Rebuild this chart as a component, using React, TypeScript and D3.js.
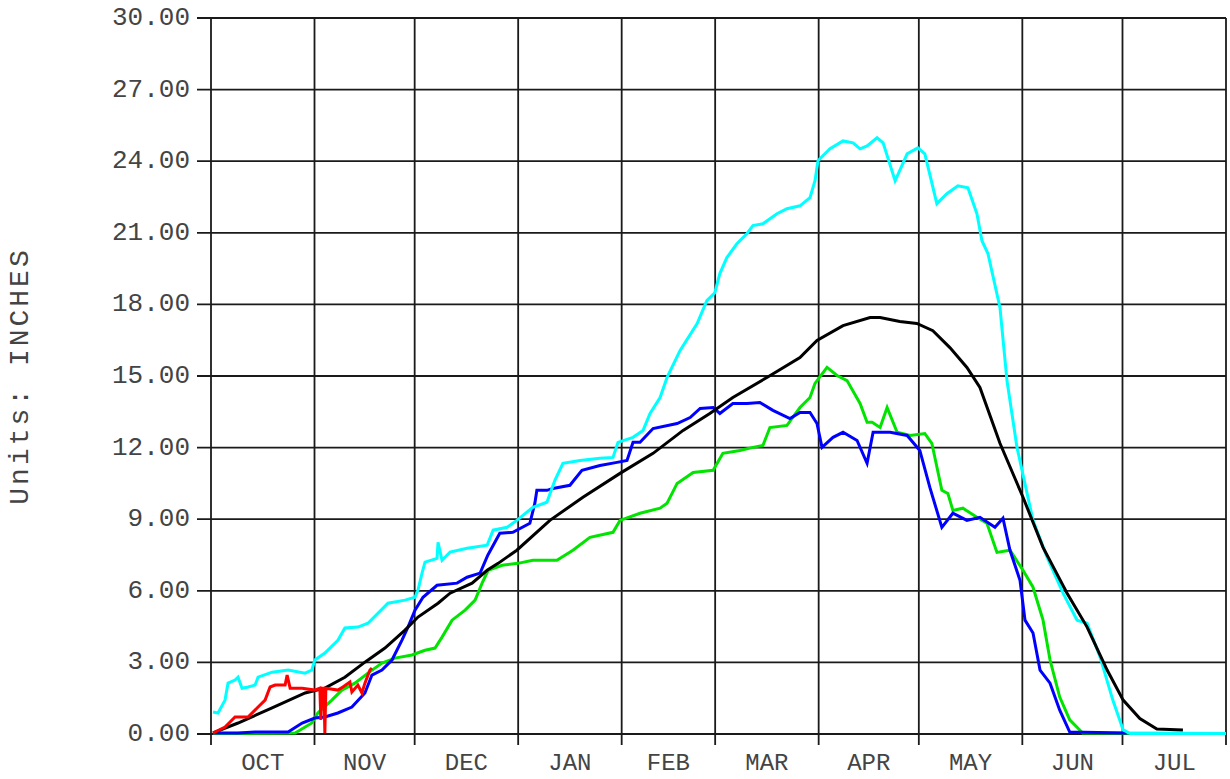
import React from "react";
import * as d3 from "d3";

const months = ["OCT", "NOV", "DEC", "JAN", "FEB", "MAR", "APR", "MAY", "JUN", "JUL"];
const monthDays = [31, 30, 31, 31, 28, 31, 30, 31, 30, 31];
const yTicks = [0, 3, 6, 9, 12, 15, 18, 21, 24, 27, 30];
const yLabel = "Units: INCHES";

// [day of water year (Oct 1 = 0), inches]
const median: [number, number][] = [
  [0.6, 0.05], [8.1, 0.46], [18.3, 1.09], [28.2, 1.72], [34.1, 1.92], [40.1, 2.38], [46.1, 3.01],
  [52.1, 3.6], [58.1, 4.35], [62, 4.9], [68, 5.48], [71.6, 5.9], [78.2, 6.32], [82.7, 6.86],
  [86, 7.15], [91.6, 7.7], [101.5, 8.95], [111.4, 9.92], [122.5, 10.92], [132.4, 11.76],
  [141.4, 12.72], [149.4, 13.43], [156.3, 14.1], [166.5, 14.94], [176.4, 15.77], [181.5, 16.49],
  [189.3, 17.11], [197.4, 17.45], [200.4, 17.45], [206.3, 17.28], [211.4, 17.2], [216.2, 16.9],
  [221.3, 16.19], [226.4, 15.36], [230.3, 14.52], [236.3, 12.18], [243.2, 9.92], [249.2, 7.82],
  [256.4, 5.9], [262.4, 4.48], [268.4, 2.68], [273.2, 1.42], [278.2, 0.65], [283.3, 0.21],
  [291.1, 0.17],
];

const maxYear: [number, number][] = [
  [0.6, 0.92], [2.1, 0.88], [4.2, 1.42], [5.1, 2.13], [7.2, 2.26], [8.1, 2.38], [9.3, 1.92],
  [11.1, 1.97], [13.2, 2.05], [14.1, 2.38], [18.3, 2.59], [23.1, 2.68], [28.2, 2.55], [30.2, 2.68],
  [31.1, 3.1], [34.1, 3.39], [38, 3.93], [40.1, 4.44], [44, 4.48], [47, 4.64], [50, 5.06],
  [53, 5.48], [58.1, 5.61], [61.1, 5.73], [62, 6.03], [63.2, 6.74], [64.1, 7.2], [67.7, 7.36],
  [68, 8.03], [69.2, 7.28], [71.6, 7.62], [76.7, 7.78], [82.7, 7.91], [84.5, 8.54], [88.7, 8.66],
  [91.6, 8.95], [96.4, 9.5], [100.6, 9.71], [103, 10.63], [105.4, 11.34], [110.5, 11.46],
  [116.5, 11.55], [120.4, 11.59], [121.9, 12.22], [126.4, 12.43], [129.4, 12.72], [131.5, 13.43],
  [134.5, 14.1], [136.6, 14.94], [140.5, 16.07], [145.6, 17.2], [148.5, 18.16], [150.9, 18.49],
  [152.4, 19.29], [154.5, 19.96], [157.5, 20.54], [160.5, 20.96], [162.3, 21.3], [165.3, 21.38],
  [169.5, 21.8], [172.5, 22.01], [176.4, 22.13], [179.4, 22.47], [180.9, 23.18], [181.8, 24.02],
  [185.4, 24.52], [189.3, 24.85], [192.3, 24.77], [194.4, 24.52], [196.5, 24.64], [199.5, 24.98],
  [201.3, 24.77], [204.9, 23.18], [208.5, 24.31], [211.7, 24.56], [213.8, 24.31], [217.4, 22.22],
  [220.4, 22.64], [223.7, 22.97], [226.7, 22.89], [229.4, 21.8], [230.9, 20.67], [232.7, 20.13],
  [236.3, 17.87], [238.4, 14.81], [241.4, 12.01], [246.2, 8.95], [250.4, 7.41], [255.2, 5.9],
  [259.4, 4.77], [262.4, 4.64], [266.3, 3.22], [270.1, 1.42], [273.2, 0.17], [275.3, 0.02],
  [304, 0.02],
];

const blueYear: [number, number][] = [
  [0.6, 0.04], [8.1, 0.04], [13.2, 0.08], [23.1, 0.08], [27.3, 0.46], [31.1, 0.67], [34.1, 0.71],
  [38, 0.88], [42.2, 1.13], [46.1, 1.72], [48.2, 2.47], [51.2, 2.68], [54.2, 3.1], [57.2, 3.93],
  [59, 4.48], [61.1, 5.19], [63.5, 5.73], [67.7, 6.23], [73.7, 6.32], [76.7, 6.57], [80.6, 6.74],
  [82.9, 7.49], [86.5, 8.41], [90.4, 8.45], [95.5, 8.83], [97, 9.67], [97.6, 10.21], [100.6, 10.21],
  [102.4, 10.29], [107.5, 10.42], [111.1, 11.05], [116.5, 11.25], [121.6, 11.38], [124.6, 11.46],
  [126.4, 12.22], [128.5, 12.22], [132.4, 12.8], [139.6, 13.01], [143.5, 13.26], [146.5, 13.64],
  [150.4, 13.68], [152.4, 13.43], [156.3, 13.85], [160.5, 13.85], [164.4, 13.89], [168.3, 13.56],
  [173.4, 13.22], [176.4, 13.47], [179.4, 13.47], [181.5, 13.01], [183, 12.01], [186.3, 12.43],
  [189.3, 12.64], [193.5, 12.3], [196.5, 11.34], [198.3, 12.64], [203.4, 12.64], [208.5, 12.51],
  [212.3, 11.88], [215.3, 10.33], [218.9, 8.66], [222.2, 9.25], [226.4, 8.95], [230.3, 9.08],
  [234.8, 8.66], [237.2, 9.04], [239.3, 7.7], [242.3, 6.44], [243.8, 4.77], [246.2, 4.23],
  [248.3, 2.68], [251.3, 2.13], [254.2, 1.0], [257.2, 0.08], [274.3, 0.04],
];

const greenYear: [number, number][] = [
  [0.6, 0.02], [25.2, 0.04], [30.2, 0.46], [32, 0.88], [36.2, 1.42], [39.2, 1.84], [43.1, 2.13],
  [47, 2.55], [51.2, 2.97], [55.1, 3.18], [60.2, 3.31], [64.1, 3.51], [67.1, 3.6], [69.2, 4.06],
  [72.2, 4.77], [76.1, 5.19], [79.1, 5.61], [81.2, 6.32], [83, 6.86], [87.2, 7.07], [91.9, 7.15],
  [96.4, 7.28], [103.6, 7.28], [108.4, 7.7], [113.5, 8.24], [120.4, 8.45], [122.5, 8.95],
  [128.5, 9.25], [134.5, 9.46], [136.6, 9.67], [139.6, 10.5], [144.4, 10.96], [150.4, 11.05],
  [153.3, 11.76], [158.4, 11.88], [162.3, 12.01], [165.3, 12.09], [167.4, 12.84], [172.5, 12.93],
  [176.4, 13.68], [179.4, 14.1], [180.9, 14.69], [184.5, 15.36], [187.5, 15.02], [190.5, 14.81],
  [194.4, 13.85], [196.5, 13.06], [198, 13.06], [200.4, 12.84], [202.5, 13.68], [205.5, 12.64],
  [209.4, 12.51], [213.8, 12.59], [215.9, 12.18], [218.9, 10.21], [220.7, 10.08], [222.2, 9.37],
  [225.2, 9.46], [229.4, 9.08], [232.4, 8.83], [235.4, 7.61], [239.3, 7.7], [243.2, 6.86],
  [246.2, 6.15], [249.2, 4.77], [251.3, 3.1], [254.2, 1.55], [257.2, 0.59], [260.2, 0.17],
  [261.1, 0.04], [304, 0.02],
];

const currentYear: [number, number][] = [
  [0.6, 0.04], [4.2, 0.29], [7.2, 0.71], [11.1, 0.71], [14.1, 1.13], [16.2, 1.42], [17.7, 1.97],
  [19.2, 2.05], [22.2, 2.05], [22.8, 2.47], [23.7, 1.92], [27.3, 1.92], [31.1, 1.84], [32.6, 1.92],
  [32.9, 0.59], [33.2, 1.92], [33.8, 1.92], [34.1, 0.04], [34.4, 1.92], [38, 1.84], [39.5, 1.97],
  [41.6, 2.18], [42.2, 1.76], [44, 2.05], [45.2, 1.72], [46.1, 2.13], [47.6, 2.68], [48.2, 2.76],
];

const series = [
  { name: "green", data: greenYear, color: "#00e400" },
  { name: "blue", data: blueYear, color: "#0000ff" },
  { name: "cyan", data: maxYear, color: "#00ffff" },
  { name: "median", data: median, color: "#000000" },
  { name: "current", data: currentYear, color: "#ff0000" },
];

const W = 1230;
const H = 779;
const left = 211;
const right = 1226;
const top = 18;
const bottom = 734;
const font = "'Liberation Mono', 'Courier New', monospace";

export default function App() {
  const totalDays = d3.sum(monthDays);
  const x = d3.scaleLinear().domain([0, totalDays]).range([left, right]);
  const y = d3.scaleLinear().domain([0, 30]).range([bottom, top]);
  const bounds = [0, ...d3.cumsum(monthDays)];
  const line = d3
    .line<[number, number]>()
    .x((d) => x(d[0]))
    .y((d) => y(d[1]));

  return (
    <div style={{ position: "absolute", left: 0, top: 0, width: W, height: H, background: "#fff" }}>
      <svg width={W} height={H} viewBox={`0 0 ${W} ${H}`} style={{ display: "block" }}>
        <rect width={W} height={H} fill="#fff" />
        {yTicks.map((t) => (
          <g key={"y" + t}>
            <line x1={left - 14} x2={right} y1={y(t)} y2={y(t)} stroke="#1a1a1a" strokeWidth={1.8} />
            <text
              x={190}
              y={y(t)}
              textAnchor="end"
              dominantBaseline="central"
              fontFamily={font}
              fontSize={26}
              fill="#444"
            >
              {t.toFixed(2)}
            </text>
          </g>
        ))}
        {bounds.map((b, i) => (
          <line
            key={"x" + i}
            x1={x(b)}
            x2={x(b)}
            y1={top}
            y2={bottom + 11}
            stroke="#1a1a1a"
            strokeWidth={1.8}
          />
        ))}
        {months.map((m, i) => (
          <text
            key={m}
            x={x((bounds[i] + bounds[i + 1]) / 2)}
            y={770}
            textAnchor="middle"
            fontFamily={font}
            fontSize={24}
            fill="#444"
          >
            {m}
          </text>
        ))}
        <text
          transform={`translate(28, 376) rotate(-90)`}
          textAnchor="middle"
          fontFamily={font}
          fontSize={28}
          letterSpacing={3}
          fill="#444"
        >
          {yLabel}
        </text>
        {series.map((s) => (
          <path
            key={s.name}
            d={line(s.data) || ""}
            fill="none"
            stroke={s.color}
            strokeWidth={3}
            strokeLinejoin="miter"
          />
        ))}
      </svg>
    </div>
  );
}
